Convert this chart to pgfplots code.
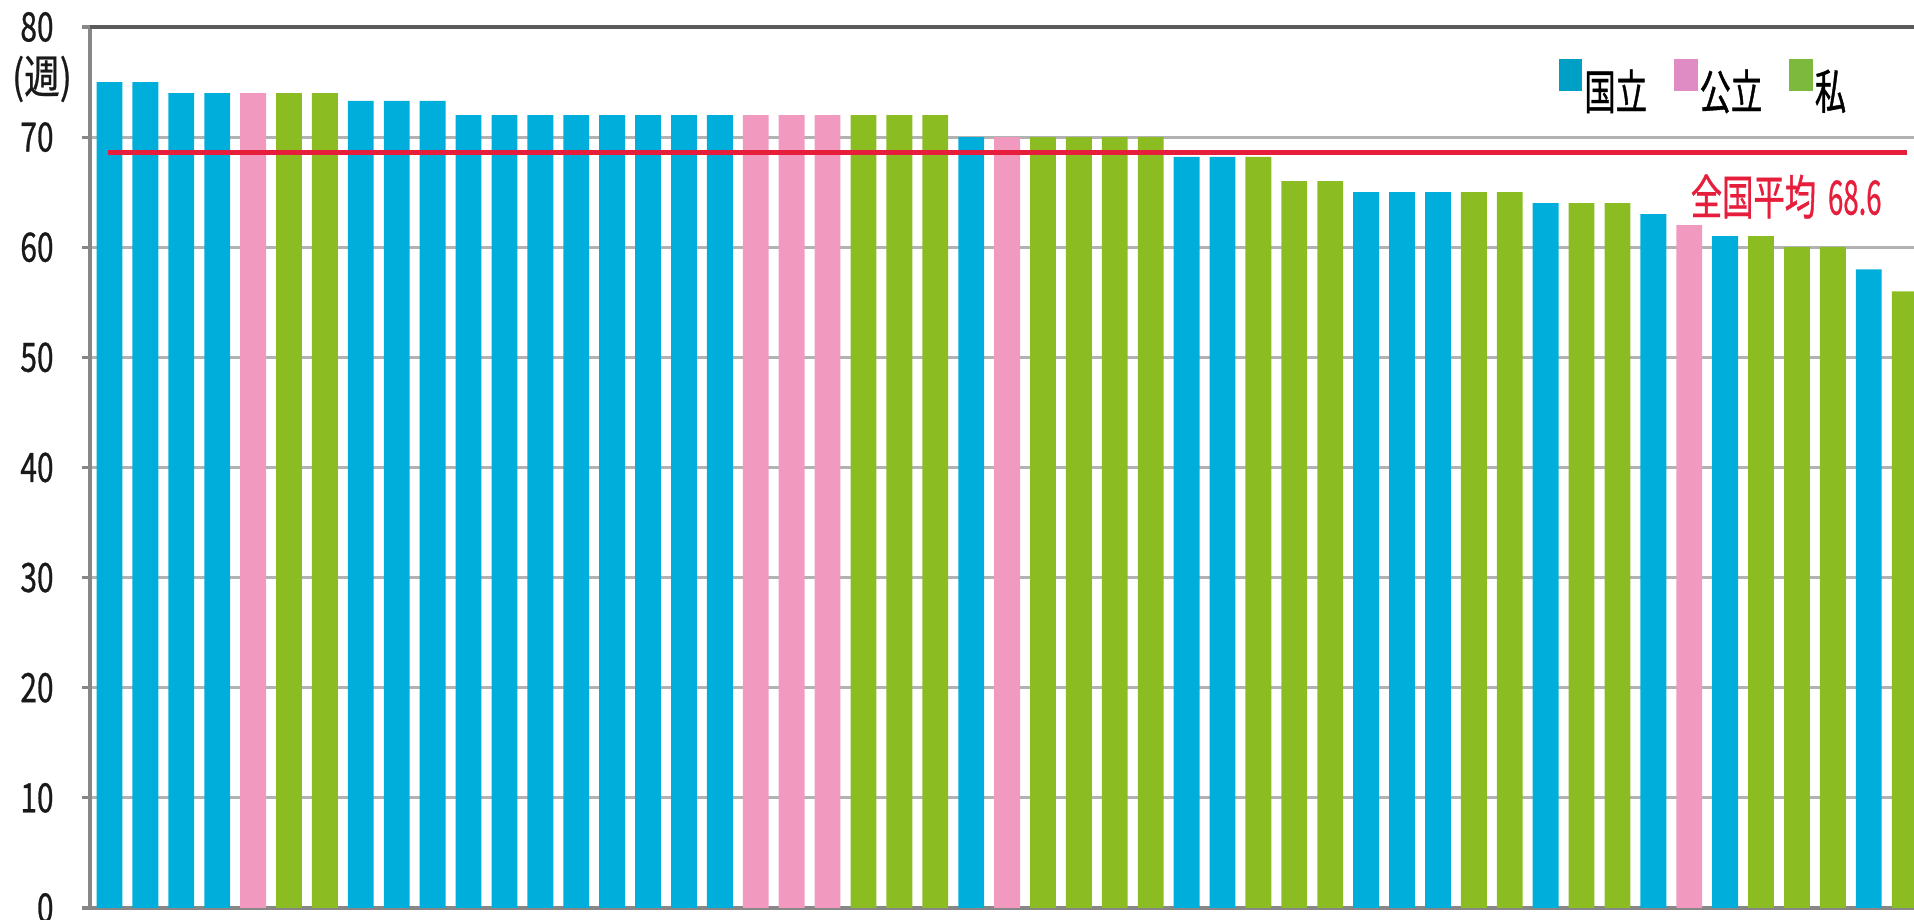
\documentclass[border=0pt]{standalone}
\usepackage{pgfplots}
\pgfplotsset{compat=1.18}
\usepackage{fontspec}
\usetikzlibrary{calc}
\setmainfont{Noto Sans CJK JP}
\newfontfamily\cjk[FakeStretch=0.66,FakeBold=0.8]{Noto Sans CJK JP}
\newfontfamily\numf[FakeStretch=0.58,FakeBold=0.6]{Noto Sans CJK JP}
\newfontfamily\tickf[FakeStretch=0.74,FakeBold=0.7]{Noto Sans CJK JP}
\newfontfamily\unitf[FakeStretch=0.78,FakeBold=0.5]{Noto Sans CJK JP}
\definecolor{cblue}{RGB}{0,174,219}
\definecolor{cpink}{RGB}{242,153,192}
\definecolor{cgreen}{RGB}{139,189,34}
\definecolor{lblue}{RGB}{0,160,198}
\definecolor{lpink}{RGB}{222,140,195}
\definecolor{lgreen}{RGB}{125,185,60}
\definecolor{cred}{RGB}{230,30,60}
\definecolor{gridc}{RGB}{178,178,178}
\definecolor{axc}{RGB}{135,135,135}
\definecolor{topc}{RGB}{90,90,90}
\begin{document}
\begin{tikzpicture}
\begin{axis}[
  name=ax, at={(0,0)}, anchor=south west,
  scale only axis, width=18.24cm, height=8.81cm,
  xmin=0.457, xmax=51.26, ymin=0, ymax=80,
  ytick={0,10,...,80}, xtick=\empty,
  axis lines=left,
  axis line style={-},
  y axis line style={axc, line width=1.4pt},
  x axis line style={axc, line width=0.9pt},
  ymajorgrids, major grid style={gridc, line width=0.9pt},
  tick style={axc, line width=0.9pt},
  major tick length=0.08cm, tick align=outside,
  /pgf/number format/assume math mode=true,
  yticklabel style={font=\tickf\fontsize{11.5}{12}\selectfont, text=black!90, xshift=-0.16cm},
  legend style={draw=none, fill=none, at={(axis cs:49.45,74.46)}, anchor=east,
    legend columns=3, inner sep=0pt, font=\cjk\fontsize{13.5}{14}\selectfont,
    nodes={inner sep=0.6pt},
    /tikz/every even column/.append style={column sep=0.25cm}},
  legend cell align=left,
  legend image code/.code={\fill[#1] (0cm,0.02cm) rectangle (0.22cm,0.32cm);},
]
\addlegendimage{lblue}
\addlegendentry{国立}
\addlegendimage{lpink}
\addlegendentry{公立}
\addlegendimage{lgreen}
\addlegendentry{私}
\addplot[ybar, bar width=0.72, bar shift=0pt, fill=cblue, draw=none, forget plot] coordinates {
(1,75) (2,75) (3,74) (4,74) (8,73.3) (9,73.3) (10,73.3)
(11,72) (12,72) (13,72) (14,72) (15,72) (16,72) (17,72) (18,72)
(25,70) (31,68.2) (32,68.2) (36,65) (37,65) (38,65) (41,64) (44,63) (46,61) (50,58)};
\addplot[ybar, bar width=0.72, bar shift=0pt, fill=cpink, draw=none, forget plot] coordinates {
(5,74) (19,72) (20,72) (21,72) (26,70) (45,62)};
\addplot[ybar, bar width=0.72, bar shift=0pt, fill=cgreen, draw=none, forget plot] coordinates {
(6,74) (7,74) (22,72) (23,72) (24,72) (27,70) (28,70) (29,70) (30,70)
(33,68.2) (34,66) (35,66) (39,65) (40,65) (42,64) (43,64) (47,61) (48,60) (49,60) (51,56)};
\addplot[cred, line width=1.4pt, forget plot] coordinates {(0.96,68.6) (51.07,68.6)};
\node[text=cred, font=\cjk\fontsize{13.5}{14}\selectfont, inner sep=0pt] at (axis cs:47.7,64.6) {全国平均\hspace{0.12cm}{\numf 68.6}};
\end{axis}
\draw[topc, line width=0.9pt] (ax.north west) -- (ax.north east);
\node[font=\unitf\fontsize{13}{13}\selectfont, text=black!90] at ($(ax.north west)+(-0.48cm,-0.52cm)$) {(週)};
\pgfresetboundingbox
\path[use as bounding box] ($(ax.south west)+(-0.90cm,-0.12cm)$) rectangle ($(ax.north east)+(0,0.27cm)$);
\end{tikzpicture}
\end{document}
